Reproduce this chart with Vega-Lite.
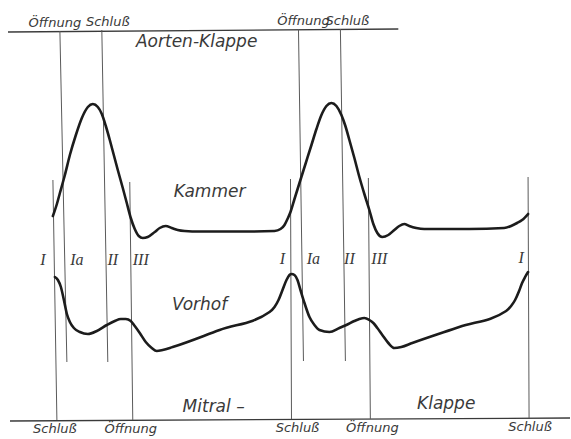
{
  "$schema": "https://vega.github.io/schema/vega-lite/v6.json",
  "width": 571,
  "height": 439,
  "autosize": {"type": "fit", "contains": "padding"},
  "padding": 0,
  "background": "white",
  "config": {"view": {"stroke": null}},
  "datasets": {
    "curves": [
      {"curve": "Kammer", "t": 53, "v": 216}, {"curve": "Kammer", "t": 57, "v": 204}, {"curve": "Kammer", "t": 60, "v": 193},
      {"curve": "Kammer", "t": 65, "v": 175}, {"curve": "Kammer", "t": 70, "v": 155}, {"curve": "Kammer", "t": 76, "v": 135},
      {"curve": "Kammer", "t": 82, "v": 118}, {"curve": "Kammer", "t": 88, "v": 107}, {"curve": "Kammer", "t": 93, "v": 104},
      {"curve": "Kammer", "t": 98, "v": 107}, {"curve": "Kammer", "t": 102, "v": 114}, {"curve": "Kammer", "t": 106, "v": 126},
      {"curve": "Kammer", "t": 110, "v": 140}, {"curve": "Kammer", "t": 114, "v": 155}, {"curve": "Kammer", "t": 118, "v": 170},
      {"curve": "Kammer", "t": 123, "v": 188}, {"curve": "Kammer", "t": 127, "v": 203}, {"curve": "Kammer", "t": 131, "v": 218},
      {"curve": "Kammer", "t": 135, "v": 229}, {"curve": "Kammer", "t": 139, "v": 236}, {"curve": "Kammer", "t": 143, "v": 238},
      {"curve": "Kammer", "t": 148, "v": 237}, {"curve": "Kammer", "t": 155, "v": 232}, {"curve": "Kammer", "t": 160, "v": 228},
      {"curve": "Kammer", "t": 166, "v": 226}, {"curve": "Kammer", "t": 172, "v": 228}, {"curve": "Kammer", "t": 178, "v": 230},
      {"curve": "Kammer", "t": 185, "v": 231}, {"curve": "Kammer", "t": 200, "v": 231.5}, {"curve": "Kammer", "t": 250, "v": 231.5},
      {"curve": "Kammer", "t": 275, "v": 231}, {"curve": "Kammer", "t": 281, "v": 229}, {"curve": "Kammer", "t": 285, "v": 225},
      {"curve": "Kammer", "t": 288, "v": 219}, {"curve": "Kammer", "t": 291, "v": 212}, {"curve": "Kammer", "t": 295, "v": 199},
      {"curve": "Kammer", "t": 300, "v": 183}, {"curve": "Kammer", "t": 306, "v": 164}, {"curve": "Kammer", "t": 312, "v": 145},
      {"curve": "Kammer", "t": 317, "v": 129}, {"curve": "Kammer", "t": 322, "v": 115}, {"curve": "Kammer", "t": 327, "v": 106},
      {"curve": "Kammer", "t": 332, "v": 103}, {"curve": "Kammer", "t": 337, "v": 106}, {"curve": "Kammer", "t": 342, "v": 115},
      {"curve": "Kammer", "t": 346, "v": 126}, {"curve": "Kammer", "t": 350, "v": 140}, {"curve": "Kammer", "t": 355, "v": 158},
      {"curve": "Kammer", "t": 360, "v": 177}, {"curve": "Kammer", "t": 365, "v": 194}, {"curve": "Kammer", "t": 370, "v": 210},
      {"curve": "Kammer", "t": 374, "v": 224}, {"curve": "Kammer", "t": 378, "v": 233}, {"curve": "Kammer", "t": 383, "v": 237},
      {"curve": "Kammer", "t": 389, "v": 235}, {"curve": "Kammer", "t": 395, "v": 230}, {"curve": "Kammer", "t": 400, "v": 226},
      {"curve": "Kammer", "t": 405, "v": 224}, {"curve": "Kammer", "t": 410, "v": 226}, {"curve": "Kammer", "t": 417, "v": 228},
      {"curve": "Kammer", "t": 425, "v": 229}, {"curve": "Kammer", "t": 470, "v": 229}, {"curve": "Kammer", "t": 505, "v": 228},
      {"curve": "Kammer", "t": 512, "v": 226}, {"curve": "Kammer", "t": 518, "v": 223}, {"curve": "Kammer", "t": 523, "v": 220},
      {"curve": "Kammer", "t": 529, "v": 214},
      {"curve": "Vorhof", "t": 55, "v": 277}, {"curve": "Vorhof", "t": 58, "v": 280}, {"curve": "Vorhof", "t": 61, "v": 287},
      {"curve": "Vorhof", "t": 64, "v": 300}, {"curve": "Vorhof", "t": 67, "v": 314}, {"curve": "Vorhof", "t": 70, "v": 322},
      {"curve": "Vorhof", "t": 74, "v": 328}, {"curve": "Vorhof", "t": 80, "v": 332}, {"curve": "Vorhof", "t": 88, "v": 334},
      {"curve": "Vorhof", "t": 97, "v": 331}, {"curve": "Vorhof", "t": 107, "v": 325}, {"curve": "Vorhof", "t": 115, "v": 321},
      {"curve": "Vorhof", "t": 121, "v": 319}, {"curve": "Vorhof", "t": 126, "v": 319}, {"curve": "Vorhof", "t": 131, "v": 321},
      {"curve": "Vorhof", "t": 135, "v": 326}, {"curve": "Vorhof", "t": 140, "v": 333}, {"curve": "Vorhof", "t": 146, "v": 342},
      {"curve": "Vorhof", "t": 152, "v": 348}, {"curve": "Vorhof", "t": 157, "v": 351}, {"curve": "Vorhof", "t": 163, "v": 350},
      {"curve": "Vorhof", "t": 173, "v": 347}, {"curve": "Vorhof", "t": 220, "v": 330}, {"curve": "Vorhof", "t": 270, "v": 312},
      {"curve": "Vorhof", "t": 275, "v": 307}, {"curve": "Vorhof", "t": 279, "v": 300}, {"curve": "Vorhof", "t": 283, "v": 290},
      {"curve": "Vorhof", "t": 287, "v": 280}, {"curve": "Vorhof", "t": 290, "v": 275}, {"curve": "Vorhof", "t": 292, "v": 274},
      {"curve": "Vorhof", "t": 295, "v": 275}, {"curve": "Vorhof", "t": 298, "v": 280}, {"curve": "Vorhof", "t": 301, "v": 290},
      {"curve": "Vorhof", "t": 305, "v": 303}, {"curve": "Vorhof", "t": 310, "v": 317}, {"curve": "Vorhof", "t": 315, "v": 325},
      {"curve": "Vorhof", "t": 320, "v": 330}, {"curve": "Vorhof", "t": 330, "v": 332}, {"curve": "Vorhof", "t": 340, "v": 328},
      {"curve": "Vorhof", "t": 347, "v": 325}, {"curve": "Vorhof", "t": 355, "v": 321}, {"curve": "Vorhof", "t": 360, "v": 319},
      {"curve": "Vorhof", "t": 365, "v": 318}, {"curve": "Vorhof", "t": 370, "v": 320}, {"curve": "Vorhof", "t": 374, "v": 323},
      {"curve": "Vorhof", "t": 378, "v": 328}, {"curve": "Vorhof", "t": 383, "v": 335}, {"curve": "Vorhof", "t": 389, "v": 343},
      {"curve": "Vorhof", "t": 395, "v": 348}, {"curve": "Vorhof", "t": 402, "v": 347}, {"curve": "Vorhof", "t": 413, "v": 343},
      {"curve": "Vorhof", "t": 460, "v": 327}, {"curve": "Vorhof", "t": 507, "v": 311}, {"curve": "Vorhof", "t": 512, "v": 306},
      {"curve": "Vorhof", "t": 516, "v": 300}, {"curve": "Vorhof", "t": 520, "v": 291}, {"curve": "Vorhof", "t": 523, "v": 283},
      {"curve": "Vorhof", "t": 526, "v": 277}, {"curve": "Vorhof", "t": 529, "v": 272}
    ],
    "verticals": [
      {"event": "Mitral Schluß", "t": 53, "v": 180, "t2": 57, "v2": 420},
      {"event": "Aorta Öffnung", "t": 60, "v": 31, "t2": 67, "v2": 362},
      {"event": "Aorta Schluß", "t": 102, "v": 30, "t2": 108, "v2": 362},
      {"event": "Mitral Öffnung", "t": 130, "v": 182, "t2": 133, "v2": 420},
      {"event": "Mitral Schluß", "t": 291, "v": 179, "t2": 292, "v2": 419},
      {"event": "Aorta Öffnung", "t": 299, "v": 29, "t2": 304, "v2": 361},
      {"event": "Aorta Schluß", "t": 341, "v": 29, "t2": 346, "v2": 361},
      {"event": "Mitral Öffnung", "t": 369, "v": 178, "t2": 371, "v2": 419},
      {"event": "Mitral Schluß", "t": 529, "v": 177, "t2": 530, "v2": 418}
    ],
    "baselines": [
      {"valve": "Aorten-Klappe", "t": 8, "v": 32, "t2": 399, "v2": 29},
      {"valve": "Mitral-Klappe", "t": 10, "v": 421, "t2": 571, "v2": 418}
    ],
    "smallLabels": [
      {"label": "Öffnung", "t": 55, "v": 27}, {"label": "Schluß", "t": 108, "v": 26},
      {"label": "Öffnung", "t": 304, "v": 25}, {"label": "Schluß", "t": 348, "v": 25},
      {"label": "Schluß", "t": 55, "v": 433}, {"label": "Öffnung", "t": 131, "v": 433},
      {"label": "Schluß", "t": 298, "v": 432}, {"label": "Öffnung", "t": 373, "v": 432},
      {"label": "Schluß", "t": 531, "v": 431}
    ],
    "bigLabels": [
      {"label": "Aorten-Klappe", "t": 197, "v": 47},
      {"label": "Kammer", "t": 210, "v": 197},
      {"label": "Vorhof", "t": 200, "v": 310},
      {"label": "Mitral –", "t": 214, "v": 412},
      {"label": "Klappe", "t": 447, "v": 409}
    ],
    "phases": [
      {"label": "I", "t": 43, "v": 265}, {"label": "Ia", "t": 77, "v": 265},
      {"label": "II", "t": 113, "v": 265}, {"label": "III", "t": 141, "v": 265},
      {"label": "I", "t": 283, "v": 264}, {"label": "Ia", "t": 314, "v": 264},
      {"label": "II", "t": 350, "v": 264}, {"label": "III", "t": 380, "v": 264},
      {"label": "I", "t": 522, "v": 263}
    ]
  },
  "layer": [
    {
      "data": {"name": "baselines"},
      "mark": {"type": "rule", "color": "#3a3a3a", "strokeWidth": 1.3},
      "encoding": {
        "x": {"field": "t", "type": "quantitative", "scale": {"domain": [0, 571], "nice": false, "zero": false}, "axis": null},
        "y": {"field": "v", "type": "quantitative", "scale": {"domain": [0, 439], "nice": false, "zero": false, "reverse": true}, "axis": null},
        "x2": {"field": "t2"},
        "y2": {"field": "v2"}
      }
    },
    {
      "data": {"name": "verticals"},
      "mark": {"type": "rule", "color": "#5a5a5a", "strokeWidth": 1},
      "encoding": {
        "x": {"field": "t", "type": "quantitative", "axis": null},
        "y": {"field": "v", "type": "quantitative", "axis": null},
        "x2": {"field": "t2"},
        "y2": {"field": "v2"}
      }
    },
    {
      "data": {"name": "curves"},
      "mark": {"type": "line", "interpolate": "monotone", "color": "#1c1c1c", "strokeWidth": 2.6, "strokeCap": "round", "strokeJoin": "round"},
      "encoding": {
        "x": {"field": "t", "type": "quantitative", "axis": null},
        "y": {"field": "v", "type": "quantitative", "axis": null},
        "detail": {"field": "curve", "type": "nominal"},
        "order": {"field": "t", "type": "quantitative"}
      }
    },
    {
      "data": {"name": "smallLabels"},
      "mark": {"type": "text", "font": "DejaVu Sans", "fontStyle": "italic", "fontSize": 13, "color": "#3a3a3a", "align": "center", "baseline": "alphabetic"},
      "encoding": {
        "x": {"field": "t", "type": "quantitative", "axis": null},
        "y": {"field": "v", "type": "quantitative", "axis": null},
        "text": {"field": "label"}
      }
    },
    {
      "data": {"name": "bigLabels"},
      "mark": {"type": "text", "font": "DejaVu Sans", "fontStyle": "italic", "fontSize": 17, "color": "#3a3a3a", "align": "center", "baseline": "alphabetic"},
      "encoding": {
        "x": {"field": "t", "type": "quantitative", "axis": null},
        "y": {"field": "v", "type": "quantitative", "axis": null},
        "text": {"field": "label"}
      }
    },
    {
      "data": {"name": "phases"},
      "mark": {"type": "text", "font": "Liberation Serif", "fontStyle": "italic", "fontSize": 16, "color": "#3a3a3a", "align": "center", "baseline": "alphabetic"},
      "encoding": {
        "x": {"field": "t", "type": "quantitative", "axis": null},
        "y": {"field": "v", "type": "quantitative", "axis": null},
        "text": {"field": "label"}
      }
    }
  ]
}
